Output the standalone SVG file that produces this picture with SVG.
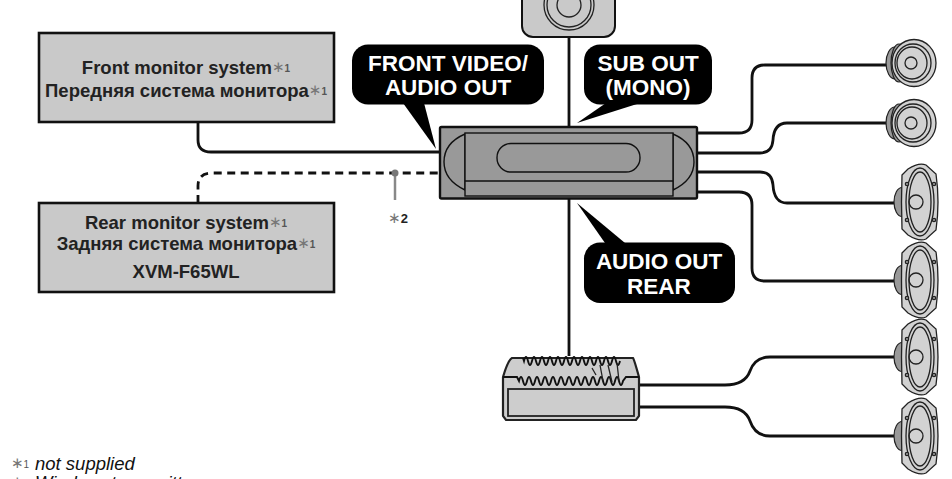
<svg xmlns="http://www.w3.org/2000/svg" width="952" height="479" viewBox="0 0 952 479">
<style>
text{font-family:"Liberation Sans",Arial,sans-serif;font-weight:bold;text-anchor:middle}
.box{fill:#c9c9c9;stroke:#111;stroke-width:2.6}
.lb{font-size:18.500px;fill:#222}
.st{fill:#777;font-size:15px;font-weight:normal;font-family:"DejaVu Sans",sans-serif}
.sn{fill:#555;font-size:10px;font-weight:bold}
.wire{fill:none;stroke:#111;stroke-width:2.8}
.co{font-size:22.500px;fill:#fff}
.u{fill:#999;stroke:#111;stroke-width:1.4}
.s{fill:#d2d2d2;stroke:#222;stroke-width:1.3}
.g{fill:#999;stroke:#222;stroke-width:1.2}
.n{fill:none;stroke:#222;stroke-width:1.3}
.amp{fill:#cdcdcd;stroke:#222;stroke-width:2.2}
.fin{fill:none;stroke:#111;stroke-width:1.9}
.ft{font-size:18.500px;font-style:italic;font-weight:normal;text-anchor:start;fill:#111}
</style>
<defs>
<g id="round">
<ellipse cx="-16" cy="0" rx="9" ry="16" class="g"/>
<ellipse cx="-12" cy="0" rx="8" ry="19" class="g"/>
<ellipse cx="3" cy="0" rx="22" ry="23.500" class="s"/>
<ellipse cx="2" cy="0" rx="18" ry="19" class="n"/>
<ellipse cx="1" cy="0" rx="15" ry="16" class="n"/>
<circle cx="0" cy="0" r="6" class="n"/>
</g>
<g id="oval">
<ellipse cx="-14" cy="0" rx="8" ry="14.500" class="g"/>
<path d="M-14-27L-8-33Q3-40 10-37L20-28Q22-14 22 0Q22 14 20 28L10 37Q3 40-8 33L-14 27Q-15 0-14-27Z" class="s"/>
<ellipse cx="4" cy="0" rx="14" ry="34" class="n"/>
<ellipse cx="4" cy="0" rx="11" ry="30" class="n"/>
<circle cx="0" cy="0" r="7" class="n"/>
<circle cx="-9" cy="-18" r="1.700" class="g"/><circle cx="-9" cy="18" r="1.700" class="g"/>
<circle cx="18" cy="-18" r="1.700" class="g"/><circle cx="18" cy="18" r="1.700" class="g"/>
</g>
</defs>
<g id="connectors">
<path class="wire" d="M569 37V127M569 198V356"/>
<path class="wire" d="M198 122V140Q198 152 211 152H440"/>
<path class="wire" stroke-dasharray="8 5.500" d="M198 203V186Q198 173 212 173H440"/>
<path class="wire" d="M697 133H739Q752 133 752 120V78Q752 65 765 65H888"/>
<path class="wire" d="M697 153H760Q772 153 773 140Q774 123 787 123H888"/>
<path class="wire" d="M697 172H760Q772 172 773 185Q774 203 787 203H894"/>
<path class="wire" d="M697 192H739Q752 192 752 205V268Q752 281 765 281H894"/>
<path class="wire" d="M639 385H725Q745 385 750 371Q755 357 770 357H894"/>
<path class="wire" d="M639 407H725Q745 407 750 421Q755 436 770 436H894"/>
<path d="M395 173V200" fill="none" stroke="#888" stroke-width="2.500"/>
<circle cx="395" cy="173" r="3.500" fill="#777"/>
</g>
<g id="front-monitor">
<rect class="box" x="39" y="33" width="295" height="89"/>
<text class="lb" x="186" y="74">Front monitor system<tspan class="st" dy="-2">∗</tspan><tspan class="sn">1</tspan></text>
<text class="lb" x="186" y="97">Передняя система монитора<tspan class="st" dy="-2">∗</tspan><tspan class="sn">1</tspan></text>
</g>
<g id="rear-monitor">
<rect class="box" x="39" y="203" width="295" height="89"/>
<text class="lb" x="186" y="229">Rear monitor system<tspan class="st" dy="-2">∗</tspan><tspan class="sn">1</tspan></text>
<text class="lb" x="186" y="250">Задняя система монитора<tspan class="st" dy="-2">∗</tspan><tspan class="sn">1</tspan></text>
<text class="lb" x="186" y="278">XVM-F65WL</text>
</g>
<g id="note2"><text x="398" y="223" style="font-size:13px;fill:#222"><tspan class="st">∗</tspan>2</text></g>
<g id="top-speaker">
<rect class="box" x="522" y="-20" width="93" height="57" rx="11" style="stroke-width:2"/>
<circle cx="569" cy="5" r="25" class="n"/><circle cx="569" cy="5" r="22" class="n"/><circle cx="569" cy="5" r="12" class="n"/>
</g>
<g id="head-unit">
<rect x="440" y="127" width="257" height="71.500" rx="1.500" fill="#999" stroke="#111" stroke-width="2.400"/>
<path class="u" d="M465 134V190Q444 180 444 162Q444 143 465 134Z"/>
<path class="u" d="M673 134V190Q694 180 694 162Q694 143 673 134Z"/>
<rect class="u" x="465" y="133" width="208" height="63"/>
<path class="u" d="M465 181H673"/>
<rect class="u" x="497" y="143.500" width="143" height="28.500" rx="14"/>
</g>
<g id="callout-front">
<path d="M403 103L436 149L424 103Z" fill="#000"/>
<rect x="352" y="44.500" width="192" height="60" rx="16" fill="#000"/>
<text class="co" x="448" y="71">FRONT VIDEO/</text>
<text class="co" x="448" y="95">AUDIO OUT</text>
</g>
<g id="callout-sub">
<path d="M606 103L577 123L637 104Z" fill="#000"/>
<rect x="584" y="44.500" width="128" height="60" rx="16" fill="#000"/>
<text class="co" x="648" y="71">SUB OUT</text>
<text class="co" x="648" y="95">(MONO)</text>
</g>
<g id="callout-rear">
<path d="M605 243L577 203L625 243Z" fill="#000"/>
<rect x="584" y="242.500" width="151" height="60.500" rx="16" fill="#000"/>
<text class="co" x="659" y="269">AUDIO OUT</text>
<text class="co" x="659" y="294">REAR</text>
</g>
<g id="amplifier">
<path class="amp" d="M512 358H633Q634 359 639 377V416L636 420H506L503 416V377Q508 360 512 358Z"/>
<path class="fin" d="M523 358L524 361q2 -8 4 0t4 0t4 0t4 0t4 0t4 0t4 0t4 0t4 0t4 0t4 0t4 0t4 0t4 0t4 0t4 0t4 0t4 0t4 0t4 0t4 0t4 0t4 0t4 0"/>
<path class="fin" d="M503 377H517L519 381q2 -8 4 0t4 0t4 0t4 0t4 0t4 0t4 0t4 0t4 0t4 0t4 0t4 0t4 0t4 0t4 0t4 0t4 0t4 0t4 0t4 0t4 0t4 0t4 0t4 0t4 0t4 0L626 377H639"/>
<path class="n" d="M592 368L596 375M600 365L603 381M608 365L612 382M617 363L619 381"/>
<rect class="amp" x="508" y="389" width="126" height="27" style="stroke-width:1.800"/>
</g>
<use id="speaker-1" href="#round" x="911" y="63"/>
<use id="speaker-2" href="#round" x="911" y="123"/>
<use id="speaker-3" href="#oval" x="916" y="202"/>
<use id="speaker-4" href="#oval" x="916" y="280"/>
<use id="speaker-5" href="#oval" x="916" y="357"/>
<use id="speaker-6" href="#oval" x="916" y="436"/>
<g id="notes">
<text x="11" y="468" style="text-anchor:start"><tspan class="st">∗</tspan><tspan class="sn" style="font-weight:normal">1</tspan></text>
<text x="35" y="470" class="ft">not supplied</text>
<text x="11" y="487" style="text-anchor:start"><tspan class="st">∗</tspan><tspan class="sn" style="font-weight:normal">2</tspan></text>
<text x="35" y="489" class="ft">Wireless transmitter</text>
</g>
</svg>
